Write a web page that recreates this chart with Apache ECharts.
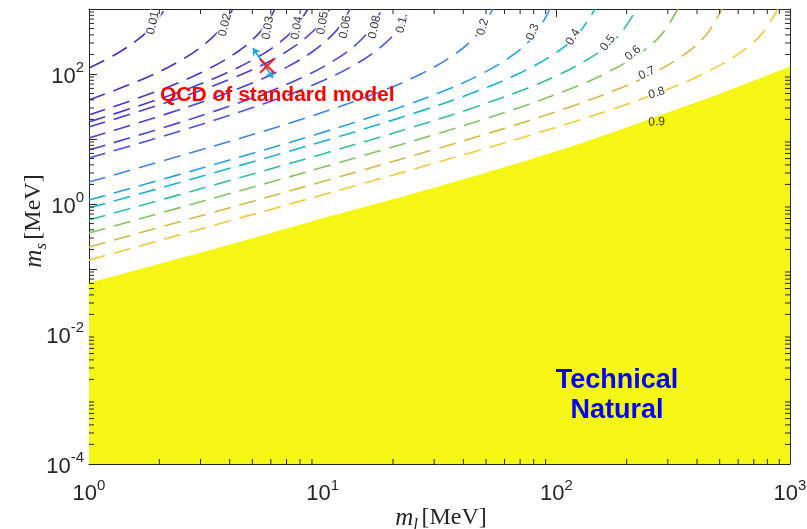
<!DOCTYPE html>
<html><head><meta charset="utf-8">
<script src="https://cdn.jsdelivr.net/npm/echarts@6/dist/echarts.min.js"></script>
<style>html,body{margin:0;padding:0;background:#fff}#c{width:807px;height:529px}</style>
</head><body><div id="c"></div>
<script>
// ---- data ----
const levels = ['0.01','0.02','0.03','0.04','0.05','0.06','0.08','0.1','0.2','0.3','0.4','0.5','0.6','0.7','0.8','0.9'];
const levelColors = ['#4332bd','#4434c2','#4537c7','#463acc','#473dd1','#4841d6','#4946de','#4a4fe6','#3a84ee','#259fe3','#13b6cf','#2fbea3','#82c462','#d6b843','#f5c93c','#fad642'];
const c001 = [[1,123.7],[1.298,200],[1.585,320],[1.827,500],[2.114,1000]];
const c002 = [[1,39.8],[1.787,90],[2.529,170],[3.171,300],[3.656,500],[4.13,1000]];
const c003 = [[1,23.4],[2.104,60],[3.251,120],[4.322,220],[5.258,400],[5.853,650],[6.249,1000]];
const c004 = [[1,18.26],[2.336,50],[3.793,100],[5.249,180],[6.496,300],[7.575,500],[8.654,1000]];
const c005 = [[1,15.3],[2.319,40],[4.245,90],[5.987,160],[7.733,280],[9.066,450],[10.09,700],[10.74,1000]];
const c006 = [[1,10.36],[2.57,30],[4.881,70],[7.086,130],[9.036,220],[11.0,400],[12.26,650],[13.09,1000]];
const c008 = [[1,6.78],[2.691,20],[5.611,50],[8.79,100],[11.75,180],[14.13,300],[16.08,500],[17.94,1000]];
const c010 = [[1,5.1],[2.741,15],[6.241,40],[10.12,80],[14.25,150],[17.51,250],[20.67,450],[23.6,1000]];
const c020 = [[1,2.18],[3.097,7],[8.08,20],[16.82,50],[26.32,100],[36.66,200],[45.63,400],[53.47,1000]];
const c030 = [[1,1.152],[3.392,4],[9.563,12],[21.03,30],[35.06,60],[47.81,100],[65.74,200],[80.91,400],[93.92,1000]];
const c040 = [[1,0.868],[3.406,3],[10.84,10],[24.7,25],[43.05,50],[68.48,100],[97.2,200],[123.0,400],[146.3,1000]];
const c050 = [[1,0.5675],[3.489,2],[10.18,6],[24.01,15],[43.85,30],[74.71,60],[104.0,100],[147.3,200],[186.1,400],[221.0,1000]];
const c060 = [[1,0.358],[3.33,1.2],[10.88,4],[30.84,12],[68.64,30],[116.1,60],[160.4,100],[224.8,200],[281.2,400],[331.1,1000]];
const c070 = [[1,0.218],[3.199,0.7],[11.26,2.5],[30.46,7],[61.55,15],[111.2,30],[186.3,60],[255.4,100],[353.7,200],[438.0,400],[511.0,1000]];
const c080 = [[1,0.137],[3.64,0.5],[14.4,2],[42.0,6],[98.9,15],[180.1,30],[305.8,60],[424.1,100],[597.5,200],[751.1,400],[888.1,1000]];
const c090 = [[1,0.04],[10,0.4],[100,5],[269,18.3],[1000,70]];
const contours = [c001,c002,c003,c004,c005,c006,c008,c010,c020,c030,c040,c050,c060,c070,c080,c090];
const labelPos = [[1.88,609],[3.82,568],[5.83,511],[7.76,511],[10.0,609],[12.5,528],[16.7,528],[21.8,568],[48.5,528],[79.4,443],[118,370],[166,300],[213,210],[244,103],[269,51],[269,18.3]];
const labelRot = [78,76,80,80,80,80,78,76,74,68,60,52,42,25,18,3];
const boundary = [[1,0.061],[4.43,0.263],[10.1,0.609],[19.4,1.152],[47.1,2.854],[114.3,7.53],[187,13.85],[269,22.2],[501,49.5],[1000,130]];
const qcdPoint = [[5.78,133]];
const arrowEnds = [[5.03,251],[6.13,86.7]];
const xMinorTicks = [2,3,4,5,6,7,8,9,20,30,40,50,60,70,80,90,200,300,400,500,600,700,800,900];
const yMinorTicks = [];
[1e-4,1e-3,1e-2,1e-1,1,10,100].forEach(d=>{for(let k=2;k<=9;k++) yMinorTicks.push(+(d*k).toPrecision(3));});

// ---- chart ----
const chart = echarts.init(document.getElementById('c'), null, {renderer:'canvas'});
const axisCol = '#262626';
const supRich = {
  b:{fontSize:22, fontFamily:'Liberation Sans', color:'#262626', lineHeight:27, verticalAlign:'bottom'},
  s:{fontSize:15, fontFamily:'Liberation Sans', color:'#262626', lineHeight:15, verticalAlign:'top'}
};
function expFmt(v, evenOnly){
  const e = Math.round(Math.log10(v));
  if (evenOnly && (e % 2 !== 0)) return '';
  return '{b|10}{s|' + e + '}';
}
const nameRich = {
  m:{fontSize:25, fontFamily:'Liberation Serif', fontStyle:'italic', fill:'#262626', lineHeight:28, verticalAlign:'top'},
  sub:{fontSize:17, fontFamily:'Liberation Serif', fontStyle:'italic', fill:'#262626', lineHeight:17, verticalAlign:'bottom'},
  u:{fontSize:24, fontFamily:'Liberation Serif', fill:'#262626', lineHeight:28, verticalAlign:'top'}
};
const baseAxis = {
  type:'log', logBase:10,
  axisLine:{show:true, lineStyle:{color:axisCol, width:1}},
  axisTick:{show:true, inside:true, length:8, lineStyle:{color:axisCol}},
  splitLine:{show:false}, minorTick:{show:false}
};
const series = [];
contours.forEach((d,i)=>{
  series.push({type:'line', name:levels[i], data:d, smooth:0.35, showSymbol:false, symbol:'none',
    lineStyle:{color:levelColors[i], width:1.6, type:[17,9]}, z:2, silent:true});
});
series.push({type:'line', name:'natural', data:boundary, smooth:0.3, symbol:'none', showSymbol:false,
  lineStyle:{width:0, color:'#f6f615'}, areaStyle:{color:'#f6f615', opacity:1, origin:'start'}, z:3, silent:true});
series.push({type:'scatter', name:'labels', symbolSize:0, z:5, silent:true,
  data: labelPos.map((p,i)=>({value:p, label:{show:true, formatter:levels[i], rotate:labelRot[i],
    backgroundColor: i===15 ? 'transparent' : '#ffffff', padding:[0,1]}})),
  label:{show:true, position:'inside', fontSize:12, fontFamily:'Liberation Sans', color:'#000', align:'center', verticalAlign:'middle'}
});
series.push({type:'lines', coordinateSystem:'cartesian2d', z:6, silent:true,
  data:[{coords:arrowEnds}], symbol:['arrow','arrow'], symbolSize:7,
  lineStyle:{color:'#1ea6ec', width:1.6, opacity:1}});
series.push({type:'scatter', name:'QCD', data:qcdPoint, z:7, silent:true,
  symbol:'path://M0,0L10,10M10,0L0,10', symbolSize:14,
  itemStyle:{color:'none', borderColor:'#ff0000', borderWidth:2.4}});
series.push({type:'custom', name:'xminor', z:8, silent:true, data:xMinorTicks.map(v=>[v,1]),
  renderItem:(params, api)=>{
    const p = api.coord([api.value(0), api.value(1)]);
    const cs = params.coordSys;
    const st = {stroke:axisCol, lineWidth:1};
    return {type:'group', children:[
      {type:'line', shape:{x1:p[0],y1:cs.y+cs.height,x2:p[0],y2:cs.y+cs.height-5}, style:st},
      {type:'line', shape:{x1:p[0],y1:cs.y,x2:p[0],y2:cs.y+5}, style:st}
    ]};
  }, clip:false});
series.push({type:'custom', name:'yminor', z:8, silent:true, data:yMinorTicks.map(v=>[1,v]),
  renderItem:(params, api)=>{
    const p = api.coord([api.value(0), api.value(1)]);
    const cs = params.coordSys;
    const st = {stroke:axisCol, lineWidth:1};
    return {type:'group', children:[
      {type:'line', shape:{x1:cs.x,y1:p[1],x2:cs.x+5,y2:p[1]}, style:st},
      {type:'line', shape:{x1:cs.x+cs.width,y1:p[1],x2:cs.x+cs.width-5,y2:p[1]}, style:st}
    ]};
  }, clip:false});

const option = {
  animation:false,
  backgroundColor:'#ffffff',
  grid:{left:89, right:17, top:9, bottom:65, containLabel:false, outerBoundsMode:'none'},
  xAxis:[
    Object.assign({}, baseAxis, {min:1, max:1000, splitNumber:3, position:'bottom',
      axisLabel:{margin:14, formatter:v=>expFmt(v,false), rich:supRich}}),
    Object.assign({}, baseAxis, {min:1, max:1000, splitNumber:3, position:'top', axisLabel:{show:false}})
  ],
  yAxis:[
    Object.assign({}, baseAxis, {min:1e-4, max:1e3, splitNumber:7, position:'left',
      axisLabel:{margin:5, formatter:v=>expFmt(v,true), rich:supRich}}),
    Object.assign({}, baseAxis, {min:1e-4, max:1e3, splitNumber:7, position:'right', axisLabel:{show:false}})
  ],
  series: series,
  graphic:[
    {type:'text', x:441, y:520, z:10, style:{text:'{m|m}{sub|l} {u|[MeV]}', rich:nameRich, align:'center', verticalAlign:'middle'}},
    {type:'text', x:36, y:221, rotation:Math.PI/2, z:10, style:{text:'{m|m}{sub|s} {u|[MeV]}', rich:nameRich, align:'center', verticalAlign:'middle'}},
    {type:'text', left:160, top:85, z:10, style:{text:'QCD of standard model', fill:'#ff0000', font:'bold 21px "Liberation Sans"'}},
    {type:'text', x:617, y:381, z:10, style:{text:'Technical', fill:'#0000ff', font:'bold 27px "Liberation Sans"', align:'center', verticalAlign:'middle'}},
    {type:'text', x:617, y:411, z:10, style:{text:'Natural', fill:'#0000ff', font:'bold 27px "Liberation Sans"', align:'center', verticalAlign:'middle'}}
  ]
};
chart.setOption(option);
</script></body></html>
